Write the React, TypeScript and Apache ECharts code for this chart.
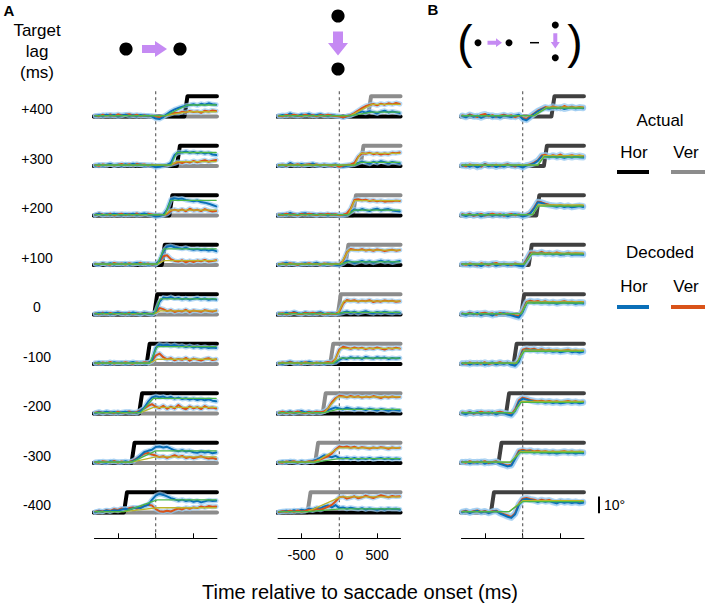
import React, { useEffect, useRef } from "react";
import * as echarts from "echarts";

// ---------------- data ----------------
const lagLabels = ["+400", "+300", "+200", "+100", "0", "-100", "-200", "-300", "-400"];
const targetLags = [400, 300, 200, 100, 0, -100, -200, -300, -400];
const sampleTimes = [
  -800, -750, -700, -650, -600, -550, -500, -450, -400, -350, -300, -250, -200, -150, -100, -50,
  0, 50, 100, 150, 200, 250, 300, 350, 400, 450, 500, 550, 600, 650, 700, 750, 800,
];
const axisTicks = [-500, 0, 500];
const actualStepDeg = 12;
const scaleBarDeg = 10;

// Panel A (horizontal target step): decoded horizontal / vertical, degrees
const aHor = [
  [0.3,0.8,0.2,1.0,0.4,0.9,0.1,0.6,1.1,0.3,0.7,0.2,0.9,0.4,0.6,0.1,-1.2,-1.5,-0.3,1.5,3.0,4.2,5.0,5.8,6.4,6.8,7.3,6.6,7.5,7.0,7.8,7.2,7.0],
  [0.2,0.9,0.3,0.7,1.2,0.4,0.8,0.2,1.0,0.5,1.3,0.6,0.9,0.3,0.6,0.2,-0.8,-0.4,0.2,0.6,1.8,6.5,8.2,8.0,8.6,7.8,8.3,7.6,8.1,7.4,7.9,6.8,6.5],
  [0.4,1.0,0.2,0.8,0.3,1.1,0.6,0.2,0.9,0.4,1.0,0.3,0.7,1.2,0.5,0.1,-0.6,-0.3,0.4,3.5,9.5,10.2,9.8,10.0,9.2,8.8,8.4,8.9,8.0,7.6,7.0,6.2,5.4],
  [0.5,0.2,0.9,0.4,1.1,0.3,0.8,0.5,1.0,0.2,0.7,1.2,0.4,0.9,0.3,0.6,0.4,2.5,8.0,10.8,11.2,10.5,10.0,9.6,10.2,9.4,9.0,9.5,8.8,9.2,8.6,9.0,8.2],
  [0.3,0.9,0.5,1.1,0.2,0.7,1.0,0.4,0.8,0.3,1.2,0.6,0.2,0.9,0.5,0.1,1.5,7.5,10.0,9.6,10.3,9.4,9.8,9.0,9.6,8.8,9.3,9.8,9.0,9.5,8.7,9.2,8.8],
  [0.4,1.0,0.3,0.8,0.2,1.1,0.6,0.9,0.3,0.7,1.2,0.5,0.8,0.4,0.6,2.0,9.5,11.5,11.0,11.4,10.6,11.2,10.4,10.8,10.0,10.6,9.8,10.3,9.6,10.1,9.4,9.8,9.5],
  [0.2,0.8,0.4,1.0,0.5,0.9,0.2,0.7,1.1,0.4,0.8,0.3,1.5,3.5,7.0,9.5,10.2,9.6,10.0,9.2,9.8,8.8,9.4,8.6,9.0,8.2,8.8,8.0,8.6,7.8,8.4,7.6,7.2],
  [0.3,0.9,0.5,0.2,1.0,0.6,0.8,0.3,1.1,0.5,1.0,2.5,4.5,6.5,7.2,7.8,9.5,9.8,9.2,9.6,8.5,7.5,7.0,7.6,6.8,7.2,6.4,6.0,6.8,6.2,6.6,5.8,6.2],
  [0.2,0.8,0.5,1.2,0.6,1.4,1.0,1.8,2.2,1.6,2.5,3.0,2.6,3.8,4.5,7.5,10.0,11.0,10.4,9.5,8.5,7.8,7.0,7.6,6.8,7.2,6.4,7.0,6.0,6.6,7.2,6.8,7.0],
];
const aVer = [
  [0.5,0.2,1.0,0.6,1.2,0.4,1.3,0.8,1.0,1.4,0.6,1.1,0.3,0.7,0.2,0.5,0.0,-0.4,0.2,0.8,1.5,2.2,2.0,2.8,2.4,3.3,2.7,3.0,2.2,3.4,2.9,3.6,3.2],
  [0.6,0.1,0.9,0.4,1.1,0.3,0.7,1.2,0.5,1.0,0.4,1.3,0.7,0.9,0.3,0.8,0.2,0.5,0.1,0.4,0.9,1.6,2.4,1.8,2.6,2.0,3.0,2.2,2.8,3.4,2.5,3.1,3.6],
  [0.3,1.2,0.6,0.4,1.0,0.2,0.8,1.1,0.3,0.9,0.5,1.2,0.4,0.7,1.0,0.6,0.2,0.5,0.3,1.0,2.8,3.5,2.8,3.6,2.5,4.0,3.0,3.4,2.6,3.8,2.9,2.4,2.7],
  [0.8,0.3,1.0,0.5,0.2,1.2,0.6,0.9,0.3,1.0,0.5,0.8,1.3,0.4,0.9,0.2,0.6,2.0,5.2,5.8,3.5,2.4,2.0,2.8,1.6,2.5,1.8,2.6,2.2,3.0,2.0,2.4,2.8],
  [0.6,0.2,1.0,0.4,0.9,0.3,1.2,0.7,0.2,1.0,0.5,0.8,0.3,1.1,0.6,0.4,1.0,3.8,3.2,2.0,2.6,1.5,2.2,1.8,2.8,1.4,2.4,2.0,1.6,2.6,2.1,1.7,2.3],
  [0.7,0.2,0.9,0.5,1.2,0.3,0.8,0.4,1.0,0.6,0.2,0.9,0.5,1.1,0.8,1.5,5.0,6.2,4.0,2.8,3.5,2.2,3.0,2.5,3.6,2.0,3.2,2.6,2.0,2.9,3.4,2.3,2.8],
  [0.5,1.1,0.3,0.9,0.6,0.2,1.0,0.4,0.8,1.2,0.5,0.9,1.8,3.0,4.5,5.5,4.0,3.2,4.6,2.8,4.0,3.0,5.0,3.4,2.5,4.2,3.0,3.8,2.6,4.4,3.2,3.6,3.0],
  [0.6,0.2,1.0,0.7,0.4,1.2,0.3,0.9,0.5,0.8,1.4,2.8,4.2,5.5,6.0,5.0,4.4,3.5,4.0,3.0,3.8,4.6,3.6,4.2,3.0,3.6,2.8,3.4,4.0,3.2,2.6,3.0,2.4],
  [0.4,1.0,0.6,1.4,1.0,2.0,1.5,2.4,1.8,2.6,3.0,2.2,3.2,4.0,4.6,4.2,2.0,0.8,0.4,1.0,0.6,1.6,2.4,1.8,2.8,2.2,3.0,2.6,3.6,3.0,3.8,3.4,3.6],
];
const aFitOn = [130, 200, 120, 20, -20, -80, -200, -320, -420];
const aFitEnd = [420, 280, 200, 110, 60, 20, -30, 0, 20];
const aFitHor = [6.8, 8.0, 9.0, 9.5, 9.3, 10.3, 9.0, 7.2, 7.5];
const aFitVer = [2.8, 2.6, 3.2, 2.6, 2.1, 2.8, 3.6, 3.6, 2.8];

// Middle panel (vertical target step)
const mHor = [
  [0.3,0.9,0.4,1.8,0.6,0.3,1.2,0.8,1.6,0.5,0.9,1.4,0.6,0.3,0.8,0.4,0.2,-0.6,0.1,0.6,1.5,2.4,3.0,2.2,3.2,2.6,1.8,2.8,3.4,2.4,3.0,2.5,2.0],
  [0.3,0.6,0.2,1.8,0.7,0.4,1.2,0.6,0.9,1.5,0.5,0.3,0.8,0.4,0.6,0.9,0.2,-0.4,0.1,0.5,0.9,1.8,2.6,2.0,1.4,2.5,1.8,2.8,2.2,1.6,2.4,2.0,1.6],
  [0.2,0.8,0.4,1.6,0.6,0.3,1.0,1.4,0.5,0.9,0.3,0.8,0.6,0.2,0.7,0.4,0.3,0.1,0.5,2.0,3.6,3.0,3.8,3.2,2.6,3.6,4.0,3.0,3.5,3.8,3.0,2.6,2.4],
  [0.3,0.7,1.4,0.5,0.9,0.2,0.6,1.0,0.4,0.8,1.3,0.5,0.3,0.9,0.6,0.2,-0.2,1.0,2.5,2.0,1.2,1.8,2.4,1.6,2.2,1.4,2.0,2.6,1.8,2.2,1.5,2.0,2.4],
  [0.6,0.2,1.0,0.5,1.5,0.8,0.3,1.2,0.6,0.4,0.9,1.3,0.5,0.2,0.8,0.4,0.6,1.2,1.8,1.0,1.6,0.8,1.4,1.9,1.2,0.8,1.5,1.0,1.6,1.2,0.9,1.4,1.1],
  [0.5,0.2,0.8,1.4,0.6,0.3,1.0,0.5,1.3,0.8,0.4,0.9,0.3,0.7,0.5,1.0,2.5,3.6,3.0,4.0,3.4,3.8,3.0,4.2,3.6,3.2,4.0,3.4,3.8,3.0,3.6,3.2,3.6],
  [0.3,0.8,0.5,1.2,0.2,0.7,1.5,0.6,1.0,0.4,0.8,0.5,1.2,2.0,2.8,3.6,3.0,2.4,3.4,2.8,2.2,3.0,2.6,2.0,2.8,2.4,1.8,2.6,2.2,1.6,2.4,2.0,1.8],
  [0.4,0.9,0.3,1.2,0.6,0.2,1.0,0.5,0.8,1.3,2.0,3.2,4.6,4.0,3.4,4.2,3.0,2.6,3.2,2.4,3.0,2.2,2.8,2.4,3.0,2.2,2.6,3.0,2.4,2.8,2.2,2.6,2.4],
  [0.2,0.6,1.0,0.5,1.3,0.8,1.6,1.2,2.2,1.8,2.8,2.4,3.6,4.2,3.0,4.4,2.6,3.0,2.2,2.8,2.4,2.0,2.6,1.8,2.4,2.0,1.6,2.2,1.8,2.4,2.0,2.2,1.8],
];
const mVer = [
  [0.5,0.2,0.9,0.4,1.0,0.6,0.3,1.1,0.5,0.8,0.2,0.9,0.4,1.0,0.6,0.3,0.1,-0.5,0.3,0.8,2.0,3.5,5.0,6.2,6.8,7.4,6.6,7.6,7.0,7.8,7.2,8.0,7.4],
  [0.4,0.8,0.2,0.9,0.5,1.1,0.3,0.7,1.0,0.4,0.9,0.3,0.8,0.5,0.2,0.7,-0.5,0.3,0.6,0.9,1.8,5.5,7.6,7.2,7.8,7.0,7.5,6.8,7.4,7.0,7.8,7.6,8.0],
  [0.6,0.3,1.0,0.5,0.8,0.2,0.9,0.4,1.1,0.6,0.3,0.8,0.5,1.0,0.4,0.7,0.2,0.5,1.2,4.0,9.2,9.6,9.0,9.4,8.6,9.0,8.4,8.8,8.2,8.6,8.4,8.8,8.6],
  [0.5,0.9,0.3,1.0,0.6,0.2,0.8,0.5,1.1,0.4,0.7,0.2,0.9,0.6,0.3,0.8,0.4,2.5,7.5,9.5,9.0,8.8,9.4,8.6,9.0,8.4,9.2,8.8,8.2,8.7,9.0,8.5,8.8],
  [0.4,0.8,0.2,0.7,1.0,0.5,0.3,0.9,0.6,1.1,0.4,0.8,0.2,0.7,0.5,0.3,1.5,6.5,8.6,8.0,8.4,7.6,8.2,7.8,8.5,7.4,8.0,7.6,8.3,7.8,8.1,7.5,7.8],
  [0.3,0.9,0.5,1.1,0.4,0.8,0.2,1.0,0.6,0.3,0.9,0.5,0.7,1.2,0.8,3.0,8.5,10.2,9.6,9.0,9.8,9.2,9.6,8.8,9.4,9.0,9.8,9.2,8.6,9.4,9.0,9.6,9.2],
  [0.4,1.0,0.3,0.8,0.5,1.2,0.6,0.2,0.9,0.4,1.1,0.7,1.2,3.0,6.5,9.0,10.5,10.2,9.6,10.4,9.8,10.2,9.4,10.0,9.6,10.3,9.8,9.2,10.0,9.5,10.1,9.6,9.8],
  [0.5,0.2,0.9,0.6,1.1,0.3,0.8,0.5,1.0,0.7,1.5,2.0,3.0,4.0,5.5,8.0,9.8,9.4,9.8,9.0,9.6,8.8,9.4,9.0,8.6,9.2,8.8,9.4,9.0,8.4,9.2,8.8,9.0],
  [0.3,0.8,0.5,1.0,0.4,1.2,0.6,0.9,1.6,1.2,2.0,1.6,2.4,3.4,4.5,6.5,9.0,9.4,8.2,8.8,9.6,8.4,9.0,10.0,9.2,8.6,9.4,10.2,9.6,9.0,9.8,9.4,9.6],
];
const mFitOn = [150, 200, 120, 20, -20, -80, -200, -320, -420];
const mFitEnd = [430, 280, 200, 120, 60, 20, -20, 0, 20];
const mFitHor = [2.6, 2.1, 3.2, 1.9, 1.3, 3.5, 2.4, 2.6, 2.2];
const mFitVer = [7.2, 7.5, 8.8, 8.8, 7.9, 9.3, 9.8, 9.0, 9.2];

// Panel B (difference)
const bHor = [
  [0.3,-0.5,0.8,-0.2,0.5,-0.8,0.2,0.9,-0.4,0.3,-0.6,0.6,0.1,-0.3,0.5,1.0,-1.5,-2.2,-0.5,1.5,3.0,4.2,5.0,4.6,5.2,4.8,5.5,4.4,5.0,5.4,4.8,5.2,4.9],
  [0.2,0.7,-0.4,0.5,-0.8,0.3,0.9,-0.2,0.6,-0.6,0.4,-0.3,0.8,0.2,0.5,0.0,-0.9,0.3,0.8,1.5,3.0,5.6,6.0,5.2,5.8,5.0,5.5,4.8,5.4,5.0,5.6,5.2,5.0],
  [0.4,-0.3,0.6,0.1,0.8,-0.5,0.3,0.7,-0.2,0.5,0.0,0.6,-0.4,0.3,0.8,0.2,-0.6,0.0,1.2,4.0,7.8,7.4,6.6,6.0,5.6,5.2,5.8,5.0,5.4,4.8,5.2,5.6,5.0],
  [0.3,0.8,-0.2,0.5,0.2,-0.6,0.7,0.3,0.9,-0.3,0.4,0.6,-0.1,0.5,0.2,-0.4,-0.8,2.5,6.5,7.0,6.6,7.2,6.4,6.8,6.2,6.6,6.0,6.4,6.8,6.0,6.4,6.2,6.0],
  [0.4,-0.2,0.7,0.1,0.9,-0.4,0.5,0.2,-0.6,0.6,0.3,0.8,0.0,-0.5,-1.2,-1.8,1.5,6.8,7.6,7.0,7.4,6.8,7.2,6.6,7.0,6.4,6.8,7.2,6.6,7.0,6.4,6.8,6.5],
  [0.2,0.7,-0.3,0.6,0.0,0.8,-0.4,0.4,0.9,-0.2,0.5,0.1,0.7,-0.5,-1.0,1.5,7.5,8.6,8.0,8.4,7.6,8.2,7.4,7.8,7.2,7.6,7.0,7.4,7.8,7.0,7.4,6.8,7.2],
  [0.3,-0.4,0.6,0.2,0.8,-0.2,0.5,0.0,0.7,-0.5,0.4,0.2,-0.6,-1.2,1.5,7.0,8.8,8.2,7.6,7.0,6.6,7.0,6.4,6.8,6.2,6.6,6.0,6.4,6.8,6.2,6.6,6.0,6.4],
  [0.4,0.8,-0.2,0.6,0.1,0.9,-0.3,0.5,0.2,0.7,-0.5,-1.2,-2.0,-1.5,2.5,6.5,7.2,6.6,7.0,6.2,6.6,6.0,6.4,5.8,6.2,5.6,6.0,6.4,5.8,6.2,5.6,6.0,5.8],
  [0.2,0.7,-0.3,0.5,0.9,0.0,0.6,-0.4,0.4,0.8,-0.6,-1.5,-2.5,-3.2,-1.0,4.5,7.6,8.0,7.4,7.0,6.2,7.0,6.4,6.8,6.0,5.4,6.4,5.8,6.2,5.6,6.0,5.4,5.8],
];
const bVer = [
  [0.6,0.1,1.2,0.4,-0.3,0.9,1.5,0.2,0.8,-0.2,0.5,1.0,0.3,0.7,-0.4,0.6,-0.8,-1.5,0.2,1.8,3.4,4.5,5.6,5.0,6.0,5.4,4.8,6.2,5.2,5.8,5.0,5.6,5.4],
  [0.5,-0.2,0.9,0.3,0.6,-0.4,1.2,0.4,0.2,0.8,-0.2,0.6,1.0,0.4,-0.3,0.7,-0.5,0.5,1.0,2.0,3.4,6.2,6.6,5.6,6.4,5.8,6.8,5.4,6.0,6.4,5.8,6.2,5.8],
  [0.7,0.2,1.0,-0.2,0.4,0.9,0.0,0.6,1.1,0.3,0.8,-0.1,0.5,0.9,0.2,0.6,-0.2,0.4,1.6,4.6,8.2,7.8,7.0,6.4,6.0,5.8,6.2,5.4,6.0,5.2,5.6,6.0,5.6],
  [0.6,0.1,0.9,0.4,-0.3,1.0,0.5,-0.1,0.7,1.2,0.2,0.8,0.4,0.0,0.9,0.3,-0.4,3.2,7.2,7.4,7.0,7.8,6.8,7.2,6.6,7.4,6.8,6.4,7.2,6.6,7.0,6.8,6.6],
  [0.6,0.2,1.0,0.4,0.1,0.8,1.1,0.3,0.7,-0.2,0.9,0.4,0.6,0.2,-0.6,-1.0,2.4,7.4,8.2,7.6,8.0,7.2,7.8,7.0,7.6,7.0,7.4,7.8,7.2,7.6,7.0,7.4,7.2],
  [0.5,0.1,0.9,0.3,0.7,0.2,1.0,-0.1,0.6,0.4,1.1,0.3,0.8,0.0,-0.4,2.5,8.4,9.2,8.6,9.0,8.2,8.8,8.0,8.4,7.8,8.2,7.6,8.0,8.4,7.6,8.0,7.4,7.8],
  [0.6,0.2,0.9,-0.1,0.5,1.0,0.3,0.8,0.2,0.6,1.1,0.5,0.0,-0.5,2.5,7.8,9.4,8.8,8.0,7.6,7.2,7.6,7.0,7.4,6.8,7.2,6.6,7.0,7.4,6.8,7.2,6.6,7.0],
  [0.7,0.2,1.0,0.3,0.8,0.4,1.1,-0.1,0.6,1.0,-0.2,-0.8,-1.4,-1.0,3.0,7.2,7.8,7.2,7.6,6.8,7.2,6.6,7.0,6.4,6.8,6.2,6.6,7.0,6.4,6.8,6.2,6.6,6.4],
  [0.5,1.0,0.1,0.8,1.2,0.3,0.9,0.0,0.7,1.1,-0.2,-1.0,-1.8,-2.6,-0.4,5.2,8.2,8.6,8.0,7.6,6.8,7.6,7.0,7.4,6.6,6.0,7.0,6.4,6.8,6.2,6.6,6.0,6.4],
];
const bFitOn = [150, 200, 130, 20, -20, -80, -120, -160, -180];
const bFitEnd = [320, 280, 200, 120, 60, 20, -20, -30, 0];
const bFitHor = [5.0, 5.3, 5.6, 6.4, 6.8, 7.5, 6.6, 6.2, 6.4];
const bFitVer = [5.5, 6.1, 6.2, 7.0, 7.5, 8.2, 7.2, 6.8, 7.0];
const fitBaseline = 0.5;

// ---------------- layout & style ----------------
const FONT = '"Liberation Sans", Arial, Helvetica, sans-serif';
const X_MIN = -810;
const X_MAX = 810;
const PLOT_W = 122.5;
const FULL_TOP = 89;
const AXIS_Y = 538.3;
const ROW0 = 116.5;
const ROW_GAP = 49.5;
const PX_PER_DEG = 1.69;
const Y_MIN = -8;
const Y_MAX = 16;
const C_BLACK = "#000000";
const C_GRAY = "#8c8c8c";
const C_DARK = "#404040";
const C_BLUE = "#0a6fb8";
const C_ORANGE = "#d95319";
const C_BAND = "rgba(150,200,240,0.7)";
const C_GREEN = "#4cb848";
const C_OLIVE = "#bdb52a";
const C_PURPLE = "#c58af3";

const panels = [
  { left: 94.45, hor: aHor, ver: aVer, fitOn: aFitOn, fitEnd: aFitEnd, fitHor: aFitHor, fitVer: aFitVer, kind: "A", band: 5 },
  { left: 278.05, hor: mHor, ver: mVer, fitOn: mFitOn, fitEnd: mFitEnd, fitHor: mFitHor, fitVer: mFitVer, kind: "V", band: 5 },
  { left: 461.45, hor: bHor, ver: bVer, fitOn: bFitOn, fitEnd: bFitEnd, fitHor: bFitHor, fitVer: bFitVer, kind: "B", band: 6 },
];

function buildOption() {
  const grid: any[] = [];
  const xAxis: any[] = [];
  const yAxis: any[] = [];
  const series: any[] = [];

  const line = (g: number, data: number[][], color: string, width: number, z: number, extra: any = {}) => ({
    type: "line",
    xAxisIndex: g,
    yAxisIndex: g,
    data,
    symbol: "none",
    showSymbol: false,
    clip: false,
    silent: true,
    animation: false,
    z,
    lineStyle: { color, width, cap: "round", join: "round", ...(extra.lineStyle || {}) },
  });

  // full-panel grids (axis + dashed zero line)
  panels.forEach((p, pi) => {
    grid.push({ left: p.left, top: FULL_TOP, width: PLOT_W, height: AXIS_Y - FULL_TOP });
    xAxis.push({
      gridIndex: pi,
      type: "value",
      min: X_MIN,
      max: X_MAX,
      axisLine: { show: true, onZero: false, lineStyle: { color: "#000", width: 1 } },
      axisTick: { show: true, inside: true, length: 5, customValues: axisTicks, lineStyle: { color: "#000", width: 1 } },
      axisLabel: {
        show: pi === 1,
        customValues: axisTicks,
        fontSize: 14,
        color: "#000",
        fontFamily: FONT,
        margin: 10,
        formatter: (v: number) => String(v),
      },
      splitLine: { show: false },
    });
    yAxis.push({ gridIndex: pi, type: "value", min: 0, max: 1, show: false });
    series.push(
      line(pi, [[0, 0], [0, 1]], "#555555", 1.1, 1, { lineStyle: { type: [3, 3], cap: "butt" } })
    );
  });

  panels.forEach((p, pi) => {
    targetLags.forEach((lag, r) => {
      const g = 3 + pi * 9 + r;
      const base = ROW0 + r * ROW_GAP;
      grid.push({
        left: p.left,
        top: base - Y_MAX * PX_PER_DEG,
        width: PLOT_W,
        height: (Y_MAX - Y_MIN) * PX_PER_DEG,
      });
      xAxis.push({ gridIndex: g, type: "value", min: X_MIN, max: X_MAX, show: false });
      yAxis.push({ gridIndex: g, type: "value", min: Y_MIN, max: Y_MAX, show: false });

      const flat = [[-820, 0], [810, 0]];
      const step = [[-820, 0], [lag - 20, 0], [lag + 20, actualStepDeg], [810, actualStepDeg]];
      if (p.kind === "A") {
        series.push(line(g, flat, C_GRAY, 4, 2));
        series.push(line(g, step, C_BLACK, 4, 3));
      } else if (p.kind === "V") {
        series.push(line(g, step, C_GRAY, 4, 2));
        series.push(line(g, flat, C_BLACK, 4, 3));
      } else {
        series.push(line(g, step, C_DARK, 4, 3));
      }

      const horData = sampleTimes.map((t, k) => [t, p.hor[r][k]]);
      const verData = sampleTimes.map((t, k) => [t, p.ver[r][k]]);
      series.push(line(g, verData, C_BAND, p.band, 4));
      series.push(line(g, horData, C_BAND, p.band, 4));
      if (p.kind === "V") {
        series.push(line(g, horData, C_BLUE, 2, 5));
        series.push(line(g, verData, C_ORANGE, 2, 6));
      } else {
        series.push(line(g, verData, C_ORANGE, 2, 5));
        series.push(line(g, horData, C_BLUE, 2, 6));
      }

      const fitH = [[-800, fitBaseline], [p.fitOn[r], fitBaseline], [p.fitEnd[r], p.fitHor[r]], [800, p.fitHor[r]]];
      const fitV = [[-800, fitBaseline], [p.fitOn[r], fitBaseline], [p.fitEnd[r], p.fitVer[r]], [800, p.fitVer[r]]];
      series.push(line(g, fitV, C_OLIVE, 1.3, 7));
      series.push(line(g, fitH, C_GREEN, 1.3, 8));
    });
  });

  // scale bar (10 deg) on its own small grid, same vertical scale as the rows
  const sbIndex = grid.length;
  const lastBase = ROW0 + 8 * ROW_GAP;
  grid.push({ left: 596, top: lastBase - Y_MAX * PX_PER_DEG, width: 6, height: (Y_MAX - Y_MIN) * PX_PER_DEG });
  xAxis.push({ gridIndex: sbIndex, type: "value", min: 0, max: 1, show: false });
  yAxis.push({ gridIndex: sbIndex, type: "value", min: Y_MIN, max: Y_MAX, show: false });
  series.push(line(sbIndex, [[0.5, -0.5], [0.5, -0.5 + scaleBarDeg]], C_BLACK, 2, 9, { lineStyle: { cap: "butt" } }));

  const txt = (text: string, x: number, y: number, size: number, align = "center", weight = "normal") => ({
    type: "text",
    silent: true,
    style: {
      text,
      x,
      y,
      fill: "#000",
      font: `${weight} ${size}px ${FONT}`,
      textAlign: align,
      textVerticalAlign: "middle",
    },
  });

  const graphic: any[] = [
    txt("A", 9, 10, 15, "center", "bold"),
    txt("B", 433, 9, 15, "center", "bold"),
    txt("Target", 37, 30, 17),
    txt("lag", 37, 51, 17),
    txt("(ms)", 37, 72, 17),
    ...lagLabels.map((l, r) => txt(l, 37, ROW0 + r * ROW_GAP - 7.5, 14)),
    // legend
    txt("Actual", 660, 120, 17),
    txt("Hor", 634, 152, 17),
    txt("Ver", 686, 152, 17),
    { type: "line", silent: true, shape: { x1: 617, y1: 172, x2: 649, y2: 172 }, style: { stroke: C_BLACK, lineWidth: 4 } },
    { type: "line", silent: true, shape: { x1: 671, y1: 172, x2: 705, y2: 172 }, style: { stroke: C_GRAY, lineWidth: 4 } },
    txt("Decoded", 660, 252, 17),
    txt("Hor", 634, 286, 17),
    txt("Ver", 686, 286, 17),
    { type: "line", silent: true, shape: { x1: 617, y1: 307, x2: 649, y2: 307 }, style: { stroke: C_BLUE, lineWidth: 4 } },
    { type: "line", silent: true, shape: { x1: 671, y1: 307, x2: 705, y2: 307 }, style: { stroke: C_ORANGE, lineWidth: 4 } },
    txt("Time relative to saccade onset (ms)", 360, 592, 20),
    txt("10°", 604, 505, 14, "left"),
    // icon A: horizontal
    { type: "circle", silent: true, shape: { cx: 126, cy: 49, r: 6.6 }, style: { fill: "#000" } },
    { type: "circle", silent: true, shape: { cx: 180, cy: 49, r: 6.6 }, style: { fill: "#000" } },
    {
      type: "polygon",
      silent: true,
      shape: { points: [[142, 45], [155, 45], [155, 41], [167, 49], [155, 57], [155, 53], [142, 53]] },
      style: { fill: C_PURPLE },
    },
    // icon middle: vertical
    { type: "circle", silent: true, shape: { cx: 338, cy: 16, r: 6.6 }, style: { fill: "#000" } },
    { type: "circle", silent: true, shape: { cx: 338, cy: 69, r: 6.6 }, style: { fill: "#000" } },
    {
      type: "polygon",
      silent: true,
      shape: { points: [[333, 31.5], [343, 31.5], [343, 43], [348, 43], [338, 55.5], [328, 43], [333, 43]] },
      style: { fill: C_PURPLE },
    },
    // icon B: ( horizontal - vertical )
    txt("(", 465, 42, 46),
    txt(")", 575, 42, 46),
    { type: "circle", silent: true, shape: { cx: 478, cy: 42.7, r: 3.5 }, style: { fill: "#000" } },
    { type: "circle", silent: true, shape: { cx: 509, cy: 42.7, r: 3.5 }, style: { fill: "#000" } },
    {
      type: "polygon",
      silent: true,
      shape: { points: [[487.5, 40.7], [496, 40.7], [496, 38.3], [502, 42.7], [496, 47.1], [496, 44.7], [487.5, 44.7]] },
      style: { fill: C_PURPLE },
    },
    { type: "line", silent: true, shape: { x1: 530, y1: 42.7, x2: 539, y2: 42.7 }, style: { stroke: "#000", lineWidth: 1.5 } },
    { type: "circle", silent: true, shape: { cx: 555.3, cy: 25, r: 3.5 }, style: { fill: "#000" } },
    { type: "circle", silent: true, shape: { cx: 555.3, cy: 57.7, r: 3.5 }, style: { fill: "#000" } },
    {
      type: "polygon",
      silent: true,
      shape: { points: [[553.3, 33.3], [557.3, 33.3], [557.3, 42], [559.8, 42], [555.3, 48.5], [550.8, 42], [553.3, 42]] },
      style: { fill: C_PURPLE },
    },
  ];

  return {
    animation: false,
    backgroundColor: "#ffffff",
    textStyle: { fontFamily: FONT },
    grid,
    xAxis,
    yAxis,
    series,
    graphic,
  };
}

export default function App() {
  const ref = useRef<HTMLDivElement>(null);
  useEffect(() => {
    if (!ref.current) return;
    const chart = echarts.init(ref.current, null, { renderer: "svg" });
    chart.setOption(buildOption() as any);
    return () => chart.dispose();
  }, []);
  return (
    <div
      ref={ref}
      style={{ position: "fixed", left: 0, top: 0, width: 706, height: 606, background: "#fff" }}
    />
  );
}
